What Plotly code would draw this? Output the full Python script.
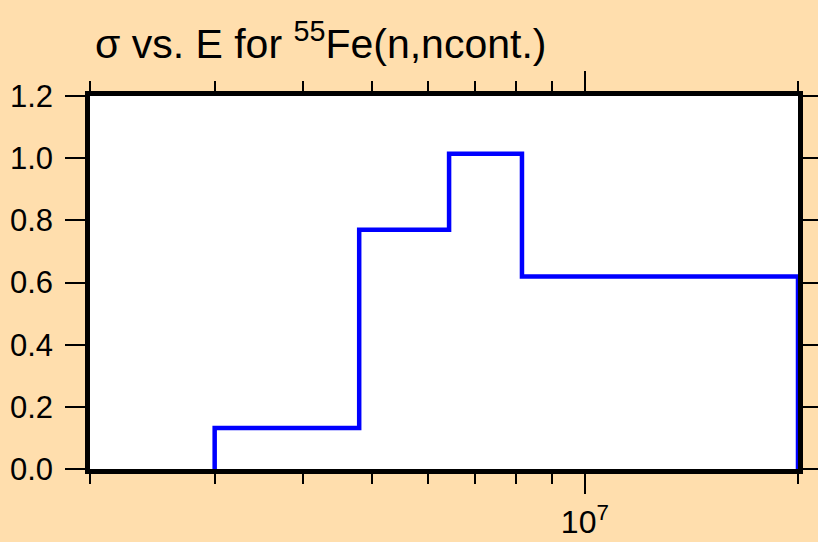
import plotly.graph_objects as go

# Energy bin edges (eV) and cross sections (b)
edges = [3.0e6, 4.8e6, 6.43e6, 8.15e6, 2.0e7]
sigma = [0.132, 0.770, 1.014, 0.619]

x_major = [1e7]
x_minor = [2e6, 3e6, 4e6, 5e6, 6e6, 7e6, 8e6, 9e6, 2e7]
y_ticks = [0.0, 0.2, 0.4, 0.6, 0.8, 1.0, 1.2]
y_labels = ["0.0", "0.2", "0.4", "0.6", "0.8", "1.0", "1.2"]

# build step path from the histogram arrays
xs, ys = [edges[0]], [0.0]
for i, s in enumerate(sigma):
    xs += [edges[i], edges[i + 1]]
    ys += [s, s]
xs.append(edges[-1])
ys.append(0.0)

fig = go.Figure()
fig.add_trace(go.Scatter(x=xs, y=ys, mode="lines",
                         line=dict(color="#0000FF", width=4.5),
                         hoverinfo="skip", showlegend=False))

bg = "#FFDEAD"
fig.update_layout(
    width=818, height=542,
    paper_bgcolor=bg, plot_bgcolor="white",
    margin=dict(l=90, r=20, t=96, b=73),
    font=dict(family="Liberation Sans, Arial, sans-serif", color="black"),
    title=dict(text="σ vs. E for <sup>55</sup>Fe(n,ncont.)",
               x=95 / 818, xref="container", xanchor="left",
               y=1 - 44 / 542, yref="container", yanchor="middle",
               font=dict(size=41, color="black")),
    xaxis=dict(type="log", range=[6.30103, 7.30103],
               tickvals=x_major, ticktext=["10<sup>7</sup>"],
               ticks="outside", ticklen=20, tickwidth=2, tickcolor="black",
               minor=dict(tickvals=x_minor, ticks="outside", ticklen=10,
                          tickwidth=2, tickcolor="black", showgrid=False),
               showline=True, linewidth=4.5, linecolor="black", mirror="ticks",
               showgrid=False, zeroline=False, automargin=False,
               tickfont=dict(size=32), ticklabelstandoff=1),
    yaxis=dict(range=[0, 1.2], tickvals=y_ticks, ticktext=y_labels,
               ticks="outside", ticklen=20, tickwidth=2, tickcolor="black",
               showline=True, linewidth=4.5, linecolor="black", mirror="ticks",
               showgrid=False, zeroline=False, automargin=False,
               tickfont=dict(size=31), ticklabelstandoff=6),
)

fig.write_html("out.html",
               config={"displayModeBar": False},
               post_script="document.body.style.margin='0';"
                           "document.body.style.background='" + bg + "';")
